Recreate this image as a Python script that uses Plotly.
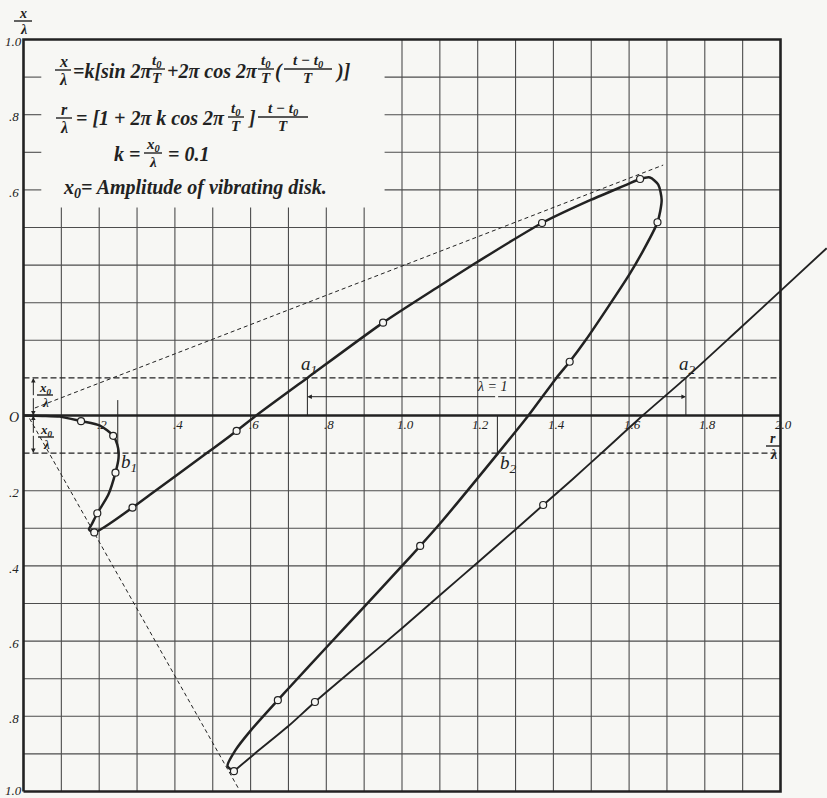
import plotly.graph_objects as go

# ---------------------------------------------------------------------------
# Path of the disturbance in the (r/lambda, x/lambda) plane
# ---------------------------------------------------------------------------
# main loop: origin -> b1 -> first cusp -> a1 -> crest -> b2 -> lower cusp
loop_r = [0.000, 0.050, 0.096, 0.152, 0.202, 0.237, 0.250, 0.251, 0.243, 0.224,
          0.195, 0.180, 0.173, 0.187, 0.288, 0.334, 0.487, 0.563, 0.615, 0.750,
          0.950, 1.100, 1.200, 1.370, 1.500, 1.594, 1.629, 1.655,
          1.677, 1.686, 1.675, 1.638, 1.600, 1.485, 1.443, 1.408, 1.334, 1.254,
          1.100, 1.048, 1.000, 0.900, 0.800, 0.700, 0.672, 0.600,
          0.560, 0.539, 0.556]
loop_x = [0.000, -0.001, -0.003, -0.015, -0.027, -0.054, -0.087, -0.114, -0.152, -0.211,
          -0.260, -0.290, -0.303, -0.311, -0.245, -0.211, -0.098, -0.041, 0.000, 0.100,
          0.247, 0.345, 0.409, 0.512, 0.574, 0.614, 0.629, 0.633,
          0.614, 0.573, 0.514, 0.440, 0.374, 0.200, 0.143, 0.100, 0.000, -0.100,
          -0.288, -0.347, -0.400, -0.509, -0.617, -0.726, -0.757, -0.838,
          -0.890, -0.932, -0.946]

# return branch: lower cusp -> a2 -> out past the frame
return_r = [0.556, 0.610, 0.700, 0.770, 0.900, 1.000, 1.100, 1.200, 1.300,
            1.373, 1.450, 1.527, 1.636, 1.750, 1.893, 2.003, 2.122]
return_x = [-0.946, -0.900, -0.826, -0.762, -0.651, -0.566, -0.478, -0.391, -0.303,
            -0.238, -0.170, -0.100, 0.000, 0.100, 0.232, 0.334, 0.445]

# computed points (open circles)
point_r = [0.152, 0.237, 0.243, 0.195, 0.187, 0.288, 0.563, 0.950, 1.370, 1.629,
           1.675, 1.443, 1.048, 0.672, 0.556, 0.770, 1.373]
point_x = [-0.015, -0.054, -0.152, -0.260, -0.311, -0.245, -0.041, 0.247, 0.512, 0.629,
           0.514, 0.143, -0.347, -0.757, -0.946, -0.762, -0.238]

# dashed construction lines
tangent_r = [0.030, 1.690]
tangent_x = [0.020, 0.666]
chord_r = [0.016, 0.568]
chord_x = [-0.008, -0.992]
amp_level = [0.1, -0.1]

# marked stations
a_r = [0.750, 1.750]
a_labels = ["a<sub>1</sub>", "a<sub>2</sub>"]
b_r = [0.249, 1.252]
b_labels = ["b<sub>1</sub>", "b<sub>2</sub>"]

# axis labelling
x_ticks = [0.2, 0.4, 0.6, 0.8, 1.0, 1.2, 1.4, 1.6, 1.8, 2.0]
x_tick_text = [".2", ".4", ".6", ".8", "1.0", "1.2", "1.4", "1.6", "1.8", "2.0"]
y_ticks = [1.0, 0.8, 0.6, 0.0, -0.2, -0.4, -0.6, -0.8, -1.0]
y_tick_text = ["1.0", ".8", ".6", "O", ".2", ".4", ".6", ".8", "1.0"]

# ---------------------------------------------------------------------------
W, H = 827, 798
ORG_PX, ORG_PY = 23.5, 415.5      # pixel position of the origin
SX, SY = 378.5, 376.0             # pixels per unit
INK = "#222222"
GRID = "#4d4d4d"
PAPER = "#f7f7f4"
SERIF = "Liberation Serif"

fig = go.Figure()

# ---- grid: 0.1 squares, cleared behind the formula block ----
box_left, box_right, box_bottom = 0.047, 0.954, 0.553
gx, gy = [], []
for i in range(1, 20):
    v = i / 10
    top = box_bottom if v < 0.95 else 1.0
    gx += [v, v, None]
    gy += [-1.0, top, None]
for j in range(-9, 10):
    v = j / 10
    if abs(abs(v) - 0.1) < 1e-9 or j == 0:
        continue
    if v > box_bottom:
        gx += [0.0, box_left, None, box_right, 2.0, None]
        gy += [v, v, None, v, v, None]
    else:
        gx += [0.0, 2.0, None]
        gy += [v, v, None]
fig.add_trace(go.Scatter(x=gx, y=gy, mode="lines", line=dict(color=GRID, width=1.1),
                         hoverinfo="skip", showlegend=False))

# ---- amplitude levels (dashed) ----
for lv in amp_level:
    fig.add_trace(go.Scatter(x=[0.0, 2.0], y=[lv, lv], mode="lines",
                             line=dict(color=INK, width=1.1, dash="6px,3px"),
                             hoverinfo="skip", showlegend=False))

# ---- zero line and frame ----
fig.add_trace(go.Scatter(x=[0.0, 2.0], y=[0.0, 0.0], mode="lines",
                         line=dict(color=INK, width=2.4), hoverinfo="skip", showlegend=False))
fig.add_trace(go.Scatter(x=[0.0, 2.0, 2.0, 0.0, 0.0], y=[-1.0, -1.0, 1.0, 1.0, -1.0],
                         mode="lines", line=dict(color=INK, width=2.6),
                         hoverinfo="skip", showlegend=False))

# ---- construction lines ----
for rr, xx in ((tangent_r, tangent_x), (chord_r, chord_x)):
    fig.add_trace(go.Scatter(x=rr, y=xx, mode="lines",
                             line=dict(color=INK, width=1.0, dash="4px,3px"),
                             hoverinfo="skip", showlegend=False))

# ---- station ticks a1, a2 (0 .. +x0) and b1, b2 (.. -x0) ----
for r in a_r:
    fig.add_trace(go.Scatter(x=[r, r], y=[0.0, amp_level[0]], mode="lines",
                             line=dict(color=INK, width=1.0), hoverinfo="skip", showlegend=False))
fig.add_trace(go.Scatter(x=[b_r[0], b_r[0]], y=[0.041, amp_level[1]], mode="lines",
                         line=dict(color=INK, width=1.0), hoverinfo="skip", showlegend=False))
fig.add_trace(go.Scatter(x=[b_r[1], b_r[1]], y=[0.0, amp_level[1]], mode="lines",
                         line=dict(color=INK, width=1.0), hoverinfo="skip", showlegend=False))

# ---- the path ----
fig.add_trace(go.Scatter(x=loop_r, y=loop_x, mode="lines",
                         line=dict(color=INK, width=2.5, shape="spline", smoothing=0.7),
                         hoverinfo="skip", showlegend=False))
fig.add_trace(go.Scatter(x=return_r, y=return_x, mode="lines",
                         line=dict(color=INK, width=1.9, shape="spline", smoothing=0.7),
                         hoverinfo="skip", showlegend=False))
fig.add_trace(go.Scatter(x=point_r, y=point_x, mode="markers", cliponaxis=False,
                         marker=dict(symbol="circle", size=7, color=PAPER,
                                     line=dict(color=INK, width=1.2)),
                         hoverinfo="skip", showlegend=False))


# ---- helpers for lettering ----
def pxp(px, py):
    return px / W, 1 - py / H


def text_px(px, py, s, size, anchor="left", weight="bold"):
    x, y = pxp(px, py)
    fig.add_annotation(x=x, y=y, xref="paper", yref="paper", text=s, showarrow=False,
                       xanchor=anchor, yanchor="middle", borderpad=0,
                       font=dict(family=SERIF, size=size, color=INK, style="italic",
                                 weight=weight))


def frac_px(cx, by, num, den, size, half):
    text_px(cx, by - size * 0.52, num, size, "center")
    text_px(cx, by + size * 0.58, den, size, "center")
    x0, y0 = pxp(cx - half, by)
    x1, _ = pxp(cx + half, by)
    fig.add_shape(type="line", xref="paper", yref="paper", x0=x0, x1=x1, y0=y0, y1=y0,
                  line=dict(color=INK, width=1.4))


def text_data(r, x, s, size, anchor="center", weight="normal"):
    fig.add_annotation(x=r, y=x, xref="x", yref="y", text=s, showarrow=False,
                       xanchor=anchor, yanchor="middle", borderpad=0,
                       font=dict(family=SERIF, size=size, color=INK, style="italic",
                                 weight=weight))


def arrow_data(r_tail, x_tail, r_head, x_head):
    fig.add_annotation(x=r_head, y=x_head, ax=r_tail, ay=x_tail, xref="x", yref="y",
                       axref="x", ayref="y", text="", showarrow=True, arrowhead=2,
                       arrowsize=0.9, arrowwidth=1.0, arrowcolor=INK, standoff=0)


# ---- formula block ----
F, f = 20, 15
frac_px(63, 70, "x", "λ", f + 1, 8)
text_px(72, 71, "=k[sin 2π", F)
frac_px(157, 69, "t<sub>0</sub>", "T", f, 8)
text_px(166, 71, "+2π cos 2π", F)
frac_px(266, 69, "t<sub>0</sub>", "T", f, 8)
text_px(274, 71, "(", F)
frac_px(308, 69, "t − t<sub>0</sub>", "T", f, 24)
text_px(334, 71, ")]", F)

frac_px(64, 118, "r", "λ", f + 1, 8)
text_px(75, 118, "= [1 + 2π k cos 2π", F)
frac_px(236, 117, "t<sub>0</sub>", "T", f, 8)
text_px(246, 118, "]", F)
frac_px(283, 117, "t − t<sub>0</sub>", "T", f, 25)

text_px(113, 154, "k =", F)
frac_px(153, 153, "x<sub>0</sub>", "λ", f, 9)
text_px(167, 154, "= 0.1", F)

text_px(62, 189, "x<sub>0</sub>= Amplitude of vibrating disk.", F)

# ---- axis titles ----
frac_px(23, 21, "x", "λ", 14, 9)
frac_px(773, 446, "r", "λ", 14, 7)

# ---- tick labels ----
for v, s in zip(x_ticks, x_tick_text):
    text_data(v + 0.008, -0.024, s, 13)
for v, s in zip(y_ticks, y_tick_text):
    lift = 0.008 if v == -1.0 else 0.0
    text_data(-0.026, v - 0.006 + lift, s, 14 if s == "O" else 13)

# ---- station labels ----
for r, s in zip(a_r, a_labels):
    text_data(r + 0.005, 0.135, s, 19)
text_data(b_r[0] + 0.03, -0.125, b_labels[0], 19)
text_data(b_r[1] + 0.03, -0.128, b_labels[1], 19)

# ---- wavelength dimension a1 -> a2 ----
mid = (a_r[0] + a_r[1]) / 2
arrow_data(mid, 0.05, a_r[0], 0.05)
arrow_data(mid, 0.05, a_r[1], 0.05)
text_data(mid - 0.01, 0.077, "λ = 1", 14)

# ---- amplitude dimensions at the origin ----
arrow_data(0.026, 0.05, 0.026, 0.1)
arrow_data(0.026, 0.05, 0.026, 0.0)
arrow_data(0.026, -0.05, 0.026, 0.0)
arrow_data(0.026, -0.05, 0.026, -0.1)
frac_px(45, 395, "x<sub>0</sub>", "λ", 13, 8)
frac_px(46, 437, "x<sub>0</sub>", "λ", 13, 8)

fig.update_layout(
    width=W, height=H, autosize=False,
    margin=dict(l=0, r=0, t=0, b=0, pad=0),
    paper_bgcolor=PAPER, plot_bgcolor=PAPER,
    showlegend=False,
    xaxis=dict(range=[-ORG_PX / SX, (W - ORG_PX) / SX], visible=False, fixedrange=True),
    yaxis=dict(range=[-(H - ORG_PY) / SY, ORG_PY / SY], visible=False, fixedrange=True),
)

fig.write_html("out.html", config={"displayModeBar": False})
